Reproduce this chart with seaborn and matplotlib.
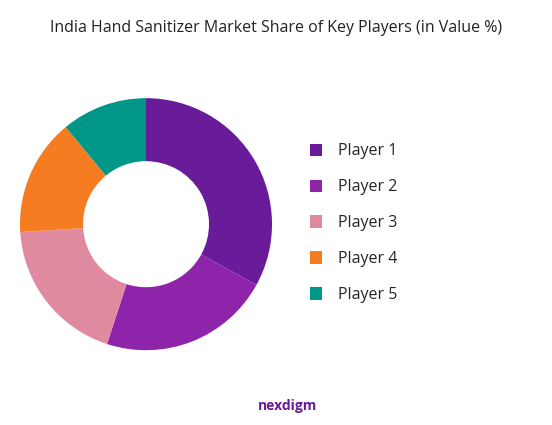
import matplotlib
matplotlib.use('Agg')
import matplotlib.pyplot as plt
import seaborn as sns

sns.set_style('white')
plt.rcParams['font.family'] = ['Open Sans', 'DejaVu Sans']

players = ['Player 1', 'Player 2', 'Player 3', 'Player 4', 'Player 5']
shares = [33, 22, 19, 15, 11]
colors = ['#6A1B9A', '#8E24AA', '#E08AA0', '#F57C20', '#009688']

fig = plt.figure(figsize=(5.52, 4.25), dpi=100)
ax = fig.add_axes([0.036, 0.176, 0.457, 0.593])
wedges, _ = ax.pie(shares, colors=colors, startangle=90, counterclock=False,
                   wedgeprops=dict(width=0.5, linewidth=0), radius=1.0)
ax.set_xlim(-1, 1)
ax.set_ylim(-1, 1)
ax.set_aspect('equal')

fig.text(0.5, 0.935, 'India Hand Sanitizer Market Share of Key Players (in Value %)',
         ha='center', va='center', fontsize=11.5, color='#222222')

leg = fig.legend(wedges, players, loc='center left', bbox_to_anchor=(0.535, 0.475),
                 frameon=False, fontsize=11.5, handlelength=0.8, handleheight=0.8,
                 labelspacing=1.25, handletextpad=1.0)

fig.text(0.52, 0.045, 'nexdigm', ha='center', va='center', fontsize=10,
         color='#6A1B9A', fontweight='bold')

fig.savefig('out.png', dpi=100)
